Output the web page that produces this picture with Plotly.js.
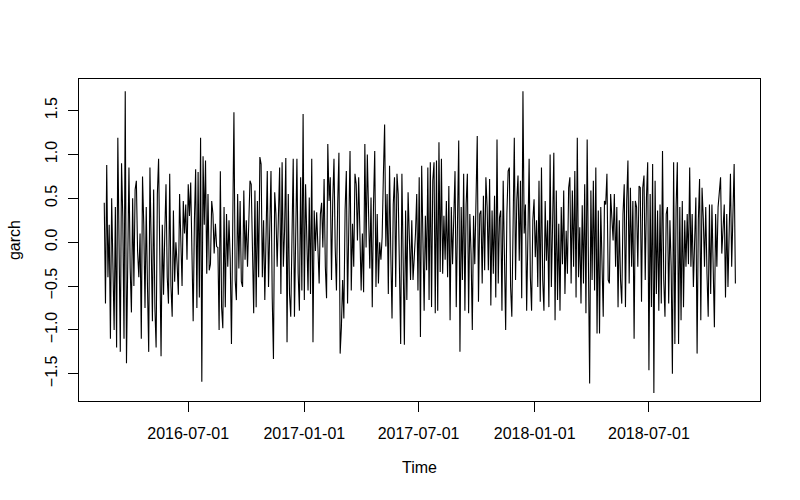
<!DOCTYPE html>
<html>
<head>
<meta charset="utf-8">
<script src="https://cdn.plot.ly/plotly-3.0.1.min.js"></script>
<style>html,body{margin:0;padding:0;background:#fff}#chart{width:800px;height:500px}</style>
</head>
<body>
<div id="chart"></div>
<script>
// Series "garch" in ten consecutive stretches
var seg01 = [0.45,-0.70,0.88,-0.40,0.20,-1.10,0.50,-0.30,-1.00,0.40,-1.20,1.19,-0.20,-1.25,0.90,0.30,-1.10,1.72,-1.38,0.20,0.85,-0.30,-0.80,0.50,-0.50,0.60,0.70,-0.10,-0.40,0.10,-1.10,0.75,0.20,-0.75,0.40,-0.50,-1.25,0.85,-0.20,-0.90,0.60,-0.75,-1.20,0.55,0.95,-0.30,-1.30,0.20];
var seg02 = [-0.60,0.10,0.66,-0.40,-0.70,0.78,-0.50,-0.85,0.36,-0.45,0.00,-0.25,-0.60,0.55,-0.05,-0.50,0.47,0.10,0.43,-0.20,0.66,0.30,0.68,-0.13,-0.90,0.25,0.83,-0.75,0.80,-0.63,1.19,-1.59,0.98,0.20,0.93,-0.36,0.55,-0.32,-0.25,0.47,0.32,-0.13,0.21,-0.05,-0.06,-1.00,0.81,-0.74,-0.98,0.40,-0.74,0.32,-0.28,0.25];
var seg03 = [-0.20,-1.16,0.20,1.48,-0.43,-0.66,0.55,-0.30,0.47,-0.45,-0.51,0.59,-0.20,0.25,-0.28,0.25,0.70,0.66,-0.28,-0.81,0.59,-0.74,0.47,-0.40,0.97,0.89,-0.40,0.25,-0.66,0.21,0.81,-0.51,0.00,0.81,-0.63,-1.33,0.57,0.32,-0.28,0.40,0.85,-0.59,0.91,-0.28,0.13,0.96,-1.14,0.55,-0.59,-0.85,0.20,0.95];
var seg04 = [-0.85,0.20,0.95,-0.36,-0.78,0.74,-0.55,1.46,-0.66,0.66,-0.20,-0.55,0.51,-0.59,0.95,-1.14,0.36,-0.10,0.34,-0.13,-0.47,0.32,0.45,-0.06,0.72,-0.28,-0.64,1.12,0.47,0.74,-0.43,0.47,0.95,-0.06,-0.55,0.43,1.02,-1.27,-0.97,-0.43,-0.87,0.36,0.81,-0.70,0.47,1.04,-0.55,0.21,-0.28,0.78,0.66,0.02];
var seg05 = [0.74,-0.06,-0.55,0.10,-0.57,1.12,-0.06,1.00,0.17,-0.30,0.51,-0.74,0.43,1.04,-0.51,0.32,-0.47,0.00,-0.20,0.06,0.76,1.34,-0.05,0.55,-0.59,0.87,-0.13,-0.87,0.43,0.74,-0.51,0.78,0.55,-0.13,-1.16,0.78,-0.47,-1.17,0.36,-0.66,0.57,0.13,-0.43,0.25,-0.43,-0.17,0.10,0.55,-0.55,0.74,-1.08,0.87,-0.21];
var seg06 = [-0.78,0.30,-0.32,0.85,-0.66,0.91,-0.74,0.70,0.91,-0.81,0.93,-0.78,1.14,-0.34,0.95,-0.36,0.30,-0.20,0.47,-0.40,0.64,-0.89,0.40,-0.25,0.32,0.81,-0.74,0.25,1.16,-1.25,0.40,-0.43,0.78,-0.78,0.43,0.78,-0.81,0.32,-0.13,-1.00,0.30,-0.25,0.36,1.21,-0.68,0.32,0.36,-0.47,0.53,-0.32,0.74];
var seg07 = [0.40,-0.32,0.72,-0.72,0.36,-0.36,0.53,-0.63,1.17,-0.47,0.28,0.36,-0.78,0.70,-0.21,-1.00,0.32,0.81,0.85,-0.51,-0.85,0.43,1.19,-0.43,0.47,0.76,-0.21,0.70,-0.64,1.72,0.10,0.43,-0.78,0.06,0.95,-0.40,-0.78,0.25,0.49,-0.17,0.25,-0.51,0.70,-0.68,0.85,-0.43,-0.78,0.47,-0.21,0.25,-0.74,1.00];
var seg08 = [-0.51,0.20,1.02,-0.89,0.59,-0.66,0.21,-0.78,0.40,-0.25,0.59,-0.59,0.13,-0.36,0.62,0.74,-0.47,0.59,-0.28,0.81,-0.63,1.19,-0.40,0.17,-0.70,0.42,-0.47,0.66,-0.81,1.17,-0.59,-1.61,0.59,-0.43,0.70,-0.55,0.85,-1.04,0.36,-1.04,0.40,-0.28,-0.85,0.47,0.43,0.78,-0.43,-0.47,0.55,0.28,0.02];
var seg09 = [0.55,-0.28,0.40,-0.74,0.25,-0.43,-0.70,0.32,0.66,-0.74,0.47,0.93,-0.47,0.62,-0.28,0.47,-1.10,0.47,0.40,-0.28,0.64,0.62,-0.68,0.62,0.76,-0.43,0.51,0.91,-1.46,0.55,-0.74,0.89,-1.72,0.70,-0.59,0.36,-0.78,0.43,-0.70,1.04,-0.43,-0.85,0.32,0.40,-0.70,0.25,-0.28,-1.50,0.91,-1.16,0.40];
var seg10 = [0.91,-1.16,0.40,-0.89,0.47,-0.74,0.25,-0.28,0.32,-0.25,0.85,-0.28,0.32,-0.51,0.17,0.51,-1.27,0.25,0.72,-0.89,0.62,0.28,-0.28,0.40,-0.36,-0.85,0.43,-0.59,0.43,-0.43,-0.97,0.32,-0.28,0.40,0.55,0.74,-0.13,0.13,0.43,-0.63,0.32,-0.51,0.21,0.78,-0.28,0.28,0.89,-0.47];

var startDate = "2016-02-19";
var endDate = "2018-11-15";
var tickDates = ["2016-07-01","2017-01-01","2017-07-01","2018-01-01","2018-07-01"];
var yTicks = [-1.5,-1.0,-0.5,0.0,0.5,1.0,1.5];

var values = [].concat(seg01,seg02,seg03,seg04,seg05,seg06,seg07,seg08,seg09,seg10);
var t0 = Date.parse(startDate + "T00:00:00Z");
var t1 = Date.parse(endDate + "T00:00:00Z");
var stepMs = (t1 - t0) / (values.length - 1);
var times = values.map(function(v, i){
  return new Date(t0 + i * stepMs).toISOString().slice(0, 19).replace("T", " ");
});

var font = {family: "Liberation Sans, Arial, Helvetica, sans-serif", size: 16, color: "#000"};

var trace = {
  x: times, y: values, type: "scatter", mode: "lines",
  line: {color: "#000", width: 1.1}, hoverinfo: "skip"
};

var layout = {
  width: 800, height: 500,
  margin: {l: 79, r: 40, t: 79, b: 99, pad: 0},
  paper_bgcolor: "#fff", plot_bgcolor: "#fff",
  font: font,
  showlegend: false,
  xaxis: {
    type: "date",
    range: ["2016-01-10", "2018-12-24"],
    tickvals: tickDates, ticktext: tickDates,
    ticks: "outside", ticklen: 10, tickwidth: 1, tickcolor: "#000",
    ticklabelstandoff: 8,
    showline: true, mirror: true, linecolor: "#000", linewidth: 1,
    showgrid: false, zeroline: false,
    tickfont: font,
    title: {text: "Time", font: font, standoff: 20}
  },
  yaxis: {
    range: [-1.81, 1.86],
    tickvals: yTicks, tickformat: ".1f",
    tickangle: -90,
    ticks: "outside", ticklen: 10, tickwidth: 1, tickcolor: "#000",
    ticklabelstandoff: 5,
    showline: true, mirror: true, linecolor: "#000", linewidth: 1,
    showgrid: false, zeroline: false,
    tickfont: font,
    title: {text: "garch", font: font, standoff: 17}
  }
};

Plotly.newPlot("chart", [trace], layout, {displayModeBar: false, staticPlot: true});
</script>
</body>
</html>
